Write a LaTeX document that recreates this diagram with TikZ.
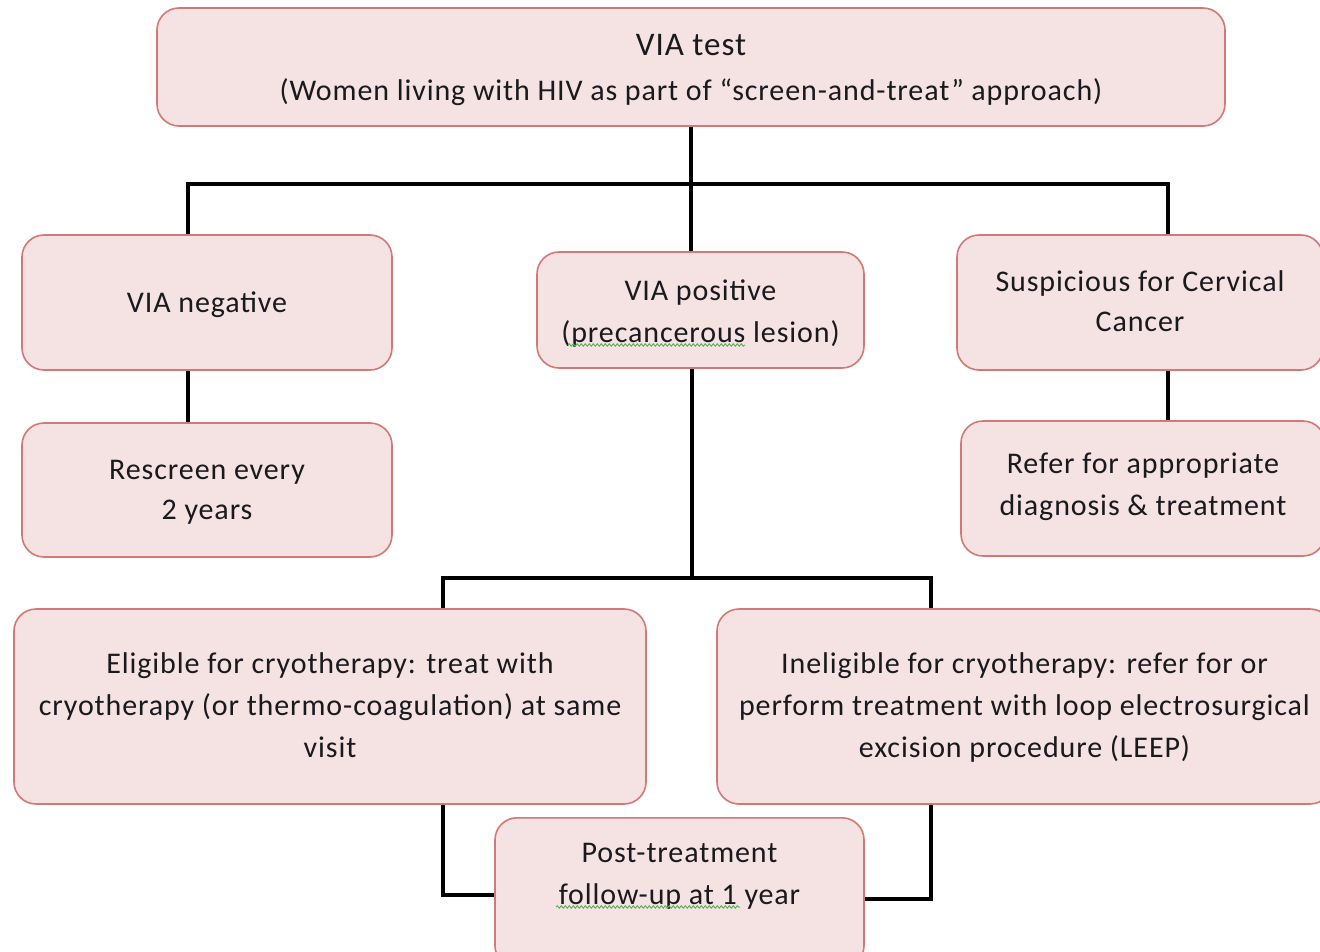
\documentclass[tikz,border=0pt]{standalone}
\usepackage{fontspec}
\setmainfont{Carlito}[LetterSpace=3.0]
\usetikzlibrary{decorations.pathmorphing}
\definecolor{boxfill}{RGB}{245,226,226}
\definecolor{boxline}{RGB}{212,120,118}
\definecolor{textcol}{RGB}{25,25,30}
\definecolor{spell}{RGB}{90,180,90}
\newcommand{\mystrut}{\rule[-9pt]{0pt}{42pt}}
\begin{document}
\begin{tikzpicture}[x=1pt,y=-1pt,
  box/.style={draw=boxline, fill=boxfill, line width=1.6pt, rounded corners=22pt,
    inner sep=0pt, align=center, text=textcol, font=\fontsize{30}{42}\selectfont},
  strutted/.style={execute at begin node=\mystrut, execute at end node=\mystrut},
  lbl/.style={inner sep=0pt, align=center, text=textcol, font=\fontsize{30}{42}\selectfont},
  conn/.style={line width=4.5pt, black},
  squig/.style={spell, line width=1pt, decorate, decoration={snake, amplitude=1.2pt, segment length=4pt}}]
\useasboundingbox (0,0) rectangle (1320,952);

% nodes
\node[box, minimum width=1068, minimum height=118] (top) at (691,67)
  {\rule{0pt}{27pt}{\fontsize{33}{46}\selectfont VIA test}\\[3pt](Women living with HIV as part of “screen-and-treat” approach)};
\node[box, strutted, minimum width=370, minimum height=135] (vn) at (207,302.5) {VIA negative\rule[-13pt]{0pt}{0pt}};
\node[box, strutted, minimum width=327, minimum height=116] (vp) at (700.5,310) {\rule{0pt}{32pt}VIA positive\\(precancerous lesion)};
\node[box, strutted, minimum width=366, minimum height=135] (sc) at (1140,302.5) {\rule{0pt}{26pt}Suspicious for Cervical\\[-2pt]Cancer};
\node[box, strutted, minimum width=370, minimum height=134] (rs) at (207,490) {\rule{0pt}{28pt}Rescreen every\\[-2pt]2 years};
\node[box, strutted, minimum width=364, minimum height=135] (rf) at (1143,488.5) {Refer for appropriate\\diagnosis \& treatment};
\node[box, strutted, minimum width=632, minimum height=195] (el) at (330,706.5)
  {\rule{0pt}{27pt}Eligible for cryotherapy: treat with\\cryotherapy (or thermo-coagulation) at same\\visit};
\node[box, strutted, minimum width=615, minimum height=195] (in) at (1024.5,706.5)
  {\rule{0pt}{27pt}Ineligible for cryotherapy: refer for or\\perform treatment with loop electrosurgical\\excision procedure (LEEP)};
\node[box, minimum width=369, minimum height=150, anchor=north] (pt) at (679.5,817) {};
\node[lbl, strutted] (ptl) at (679.5,878) {Post-treatment\\follow-up at 1 year};

% junctions
\coordinate (jl) at (188,184);
\coordinate (jr) at (1168,184);
\coordinate (jm) at (692,578);
\coordinate (jel) at (443,578);
\coordinate (jin) at (931,578);

% connectors
\draw[conn] (top.south) -- (top.south |- vp.north);
\draw[conn] (vn.north -| jl) -- (jl) -- (jr) -- (jr |- sc.north);
\draw[conn] (vn.south -| jl) -- (rs.north -| jl);
\draw[conn] (sc.south -| jr) -- (rf.north -| jr);
\draw[conn] (vp.south -| jm) -- (jm);
\draw[conn] (el.north -| jel) -- (jel) -- (jin) -- (in.north -| jin);
\draw[conn] (el.south -| jel) |- ([yshift=-2pt]pt.west);
\draw[conn] (in.south -| jin) |- ([yshift=-6pt]pt.east);

% spell-check underlines
\draw[squig] (568,345) -- (745,345);
\draw[squig] (556,907) -- (740,907);
\end{tikzpicture}
\end{document}
